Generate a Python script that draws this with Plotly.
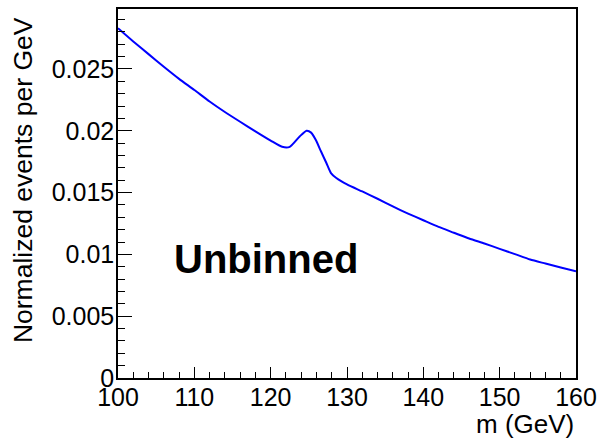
import plotly.graph_objects as go

# Data (mass in GeV, normalized events per GeV)
mass = [100, 102, 104, 106, 108, 110, 112, 114, 116, 118, 120, 121.5, 122.5,
        123.8, 124.7, 125.3, 125.9, 126.6, 127.3, 127.9, 128.6, 130, 132, 134,
        136, 138, 140, 142, 144, 146, 148, 150, 152, 154, 156, 158, 160]
density = [0.02829, 0.02722, 0.02620, 0.02518, 0.02420, 0.02330, 0.02237,
           0.02152, 0.02073, 0.01995, 0.01920, 0.01870, 0.01870, 0.01954,
           0.02000, 0.01985, 0.01927, 0.01832, 0.01739, 0.01658, 0.01618,
           0.01566, 0.01509, 0.01450, 0.01388, 0.01330, 0.01276, 0.01222,
           0.01175, 0.01128, 0.01088, 0.01045, 0.01002, 0.00958, 0.00926,
           0.00894, 0.00863]

x_ticks = [100, 110, 120, 130, 140, 150, 160]
x_ticklabels = ["100", "110", "120", "130", "140", "150", "160"]
y_ticks = [0, 0.005, 0.01, 0.015, 0.02, 0.025]
y_ticklabels = ["0", "0.005", "0.01", "0.015", "0.02", "0.025"]

FONT = "Liberation Sans, Arial, Helvetica, sans-serif"

fig = go.Figure()
fig.add_trace(go.Scatter(x=mass, y=density, mode="lines",
                         line=dict(color="#0000ff", width=2, shape="spline",
                                   smoothing=0.6),
                         showlegend=False))

fig.update_layout(
    width=600, height=441,
    margin=dict(l=118, r=24, t=9, b=63, autoexpand=False),
    paper_bgcolor="white", plot_bgcolor="white",
    font=dict(family=FONT, color="black"),
    xaxis=dict(range=[100, 160], showgrid=False, zeroline=False, automargin=False,
               showline=True, linecolor="black", linewidth=1.5, mirror=True,
               ticks="inside", ticklen=11, tickcolor="black", tickwidth=1,
               tickvals=x_ticks, ticktext=x_ticklabels, ticklabelstandoff=-4,
               tickfont=dict(size=25, family=FONT),
               minor=dict(dtick=2, ticks="inside", ticklen=6, tickcolor="black")),
    yaxis=dict(range=[0, 0.02985], showgrid=False, zeroline=False, automargin=False,
               showline=True, linecolor="black", linewidth=1.5, mirror=True,
               ticks="inside", ticklen=14, tickcolor="black", tickwidth=1,
               tickvals=y_ticks, ticktext=y_ticklabels, ticklabelstandoff=-3,
               tickfont=dict(size=25, family=FONT),
               minor=dict(dtick=0.001, ticks="inside", ticklen=7, tickcolor="black")),
    annotations=[
        dict(text="m (GeV)", xref="paper", yref="paper", x=1.0, y=-0.125,
             xanchor="right", yanchor="middle", showarrow=False,
             font=dict(size=26, family=FONT)),
        dict(text="Normalized events per GeV", xref="paper", yref="paper",
             x=-0.2085, y=0.535, xanchor="center", yanchor="middle",
             textangle=-90, showarrow=False, font=dict(size=26.5, family=FONT)),
        dict(text="<b>Unbinned</b>", xref="x", yref="y", x=119.45, y=0.0096,
             xanchor="center", yanchor="middle", showarrow=False,
             font=dict(size=40, family=FONT)),
    ],
)

fig.write_html("out.html")
